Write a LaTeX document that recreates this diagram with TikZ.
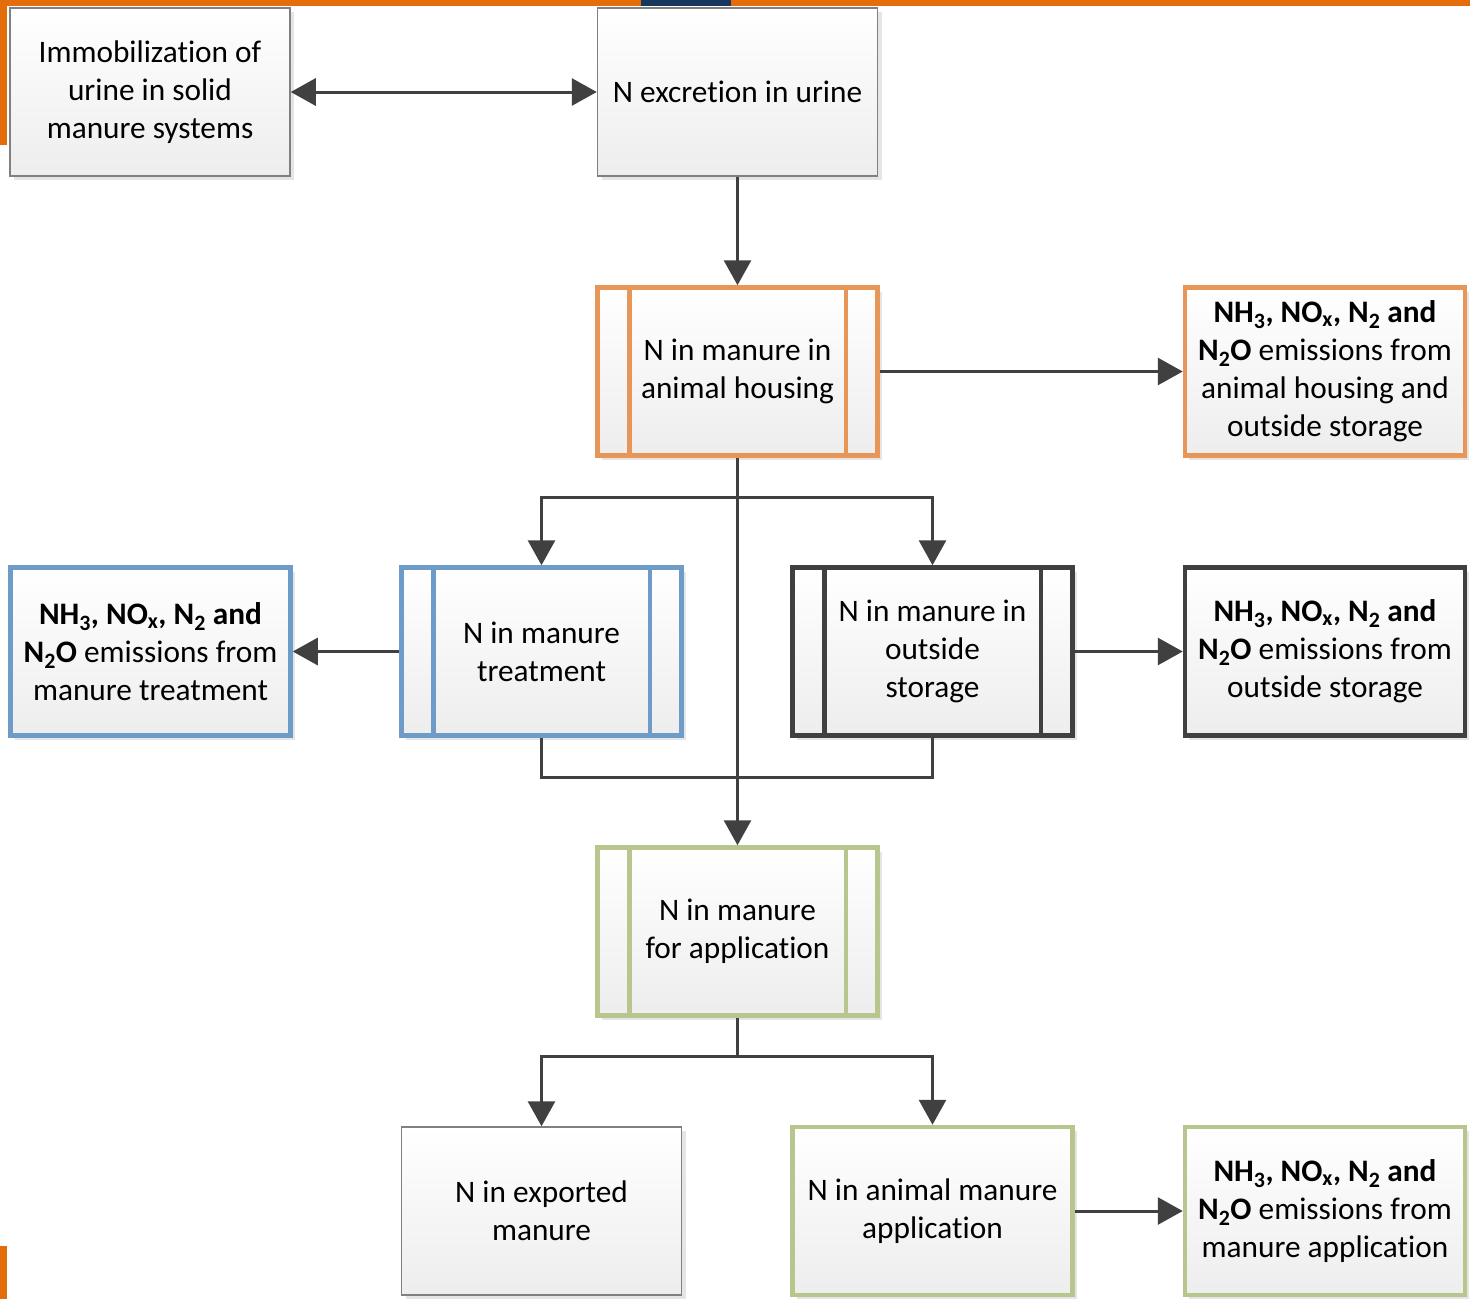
\documentclass[tikz,border=0pt]{standalone}
\usepackage{fontspec}
\setmainfont[Ligatures=NoCommon]{Carlito}
\usetikzlibrary{arrows.meta,shadows,calc}
\definecolor{boxor}{RGB}{232,150,88}
\definecolor{boxbl}{RGB}{110,156,200}
\definecolor{boxgr}{RGB}{183,198,140}
\definecolor{boxdk}{RGB}{64,64,64}
\definecolor{boxgy}{RGB}{128,128,128}
\definecolor{linec}{RGB}{64,64,64}
\definecolor{topor}{RGB}{228,108,10}
\definecolor{topbl}{RGB}{23,55,94}
\tikzset{
  base/.style={rectangle, minimum width=280pt, minimum height=168pt, align=center,
    top color=white, bottom color=black!7, inner sep=0pt,
    font=\fontsize{31.3}{38}\selectfont,
    drop shadow={shadow xshift=4pt, shadow yshift=-4pt, fill=black!20, opacity=0.5}},
  gybox/.style={base, draw=boxgy, line width=1.5pt},
  orbox/.style={base, draw=boxor, line width=4.5pt},
  blbox/.style={base, draw=boxbl, line width=4.5pt},
  grbox/.style={base, draw=boxgr, line width=4.5pt},
  dkbox/.style={base, draw=boxdk, line width=4.5pt},
  ln/.style={draw=linec, line width=3pt},
  arr/.style={ln, -{Triangle[length=25pt,width=27pt]}},
  darr/.style={ln, {Triangle[length=25pt,width=27pt]}-{Triangle[length=25pt,width=27pt]}},
}
\newcommand{\emis}{\textbf{NH\textsubscript{3}, NO\textsubscript{x}, N\textsubscript{2} and}\\\textbf{N\textsubscript{2}O} emissions from}
\begin{document}
\begin{tikzpicture}[x=1pt,y=-1pt]
\useasboundingbox (0,0) rectangle (1470,1299);
\fill[white] (0,0) rectangle (1470,1299);
% decorative bars
\fill[topor] (0,0) rectangle (1470,6);
\fill[topbl] (641,0) rectangle (731,6);
\fill[topor] (0,0) rectangle (7,145);
\fill[topor] (0,1246) rectangle (7,1299);
% nodes
\node[gybox] (A) at (150,92) {Immobilization of\\urine in solid\\manure systems};
\node[gybox] (B) at (737.5,92) {N excretion in urine};
\node[orbox] (C) at (737.5,371.5) {N in manure in\\animal housing};
\node[orbox] (D) at (1325,371.5) {\emis\\animal housing and\\outside storage};
\node[blbox] (E) at (541.5,651.5) {N in manure\\treatment};
\node[blbox] (F) at (150.5,651.5) {\emis\\manure treatment};
\node[dkbox] (G) at (932.5,651.5) {N in manure in\\outside\\storage};
\node[dkbox] (H) at (1325,651.5) {\emis\\outside storage};
\node[grbox] (I) at (737.5,931.5) {N in manure\\for application};
\node[gybox] (J) at (541.5,1211) {N in exported\\manure};
\node[grbox] (K) at (932.5,1211) {N in animal manure\\application};
\node[grbox] (L) at (1325,1211) {\emis\\manure application};
% inner vertical bars of process boxes
\foreach \n/\c in {C/boxor,E/boxbl,G/boxdk,I/boxgr}{
  \draw[\c, line width=4.5pt] ([xshift=34pt]\n.north west) -- ([xshift=34pt]\n.south west);
  \draw[\c, line width=4.5pt] ([xshift=-34pt]\n.north east) -- ([xshift=-34pt]\n.south east);
}
% connectors
\coordinate (b1) at (737.5,497);
\coordinate (b2) at (737.5,777);
\coordinate (b3) at (737.5,1056);
\draw[darr] (A.east) -- (B.west);
\draw[arr] (B.south) -- (C.north);
\draw[arr] (C.east) -- (D.west);
\draw[arr] (C.south) -- (I.north);
\draw[arr] (b1) -| (E.north);
\draw[arr] (b1) -| (G.north);
\draw[arr] (E.west) -- (F.east);
\draw[arr] (G.east) -- (H.west);
\draw[ln] (E.south) |- (b2) -| (G.south);
\draw[ln] (I.south) -- (b3);
\draw[arr] (b3) -| (J.north);
\draw[arr] (b3) -| (K.north);
\draw[arr] (K.east) -- (L.west);
\end{tikzpicture}
\end{document}
